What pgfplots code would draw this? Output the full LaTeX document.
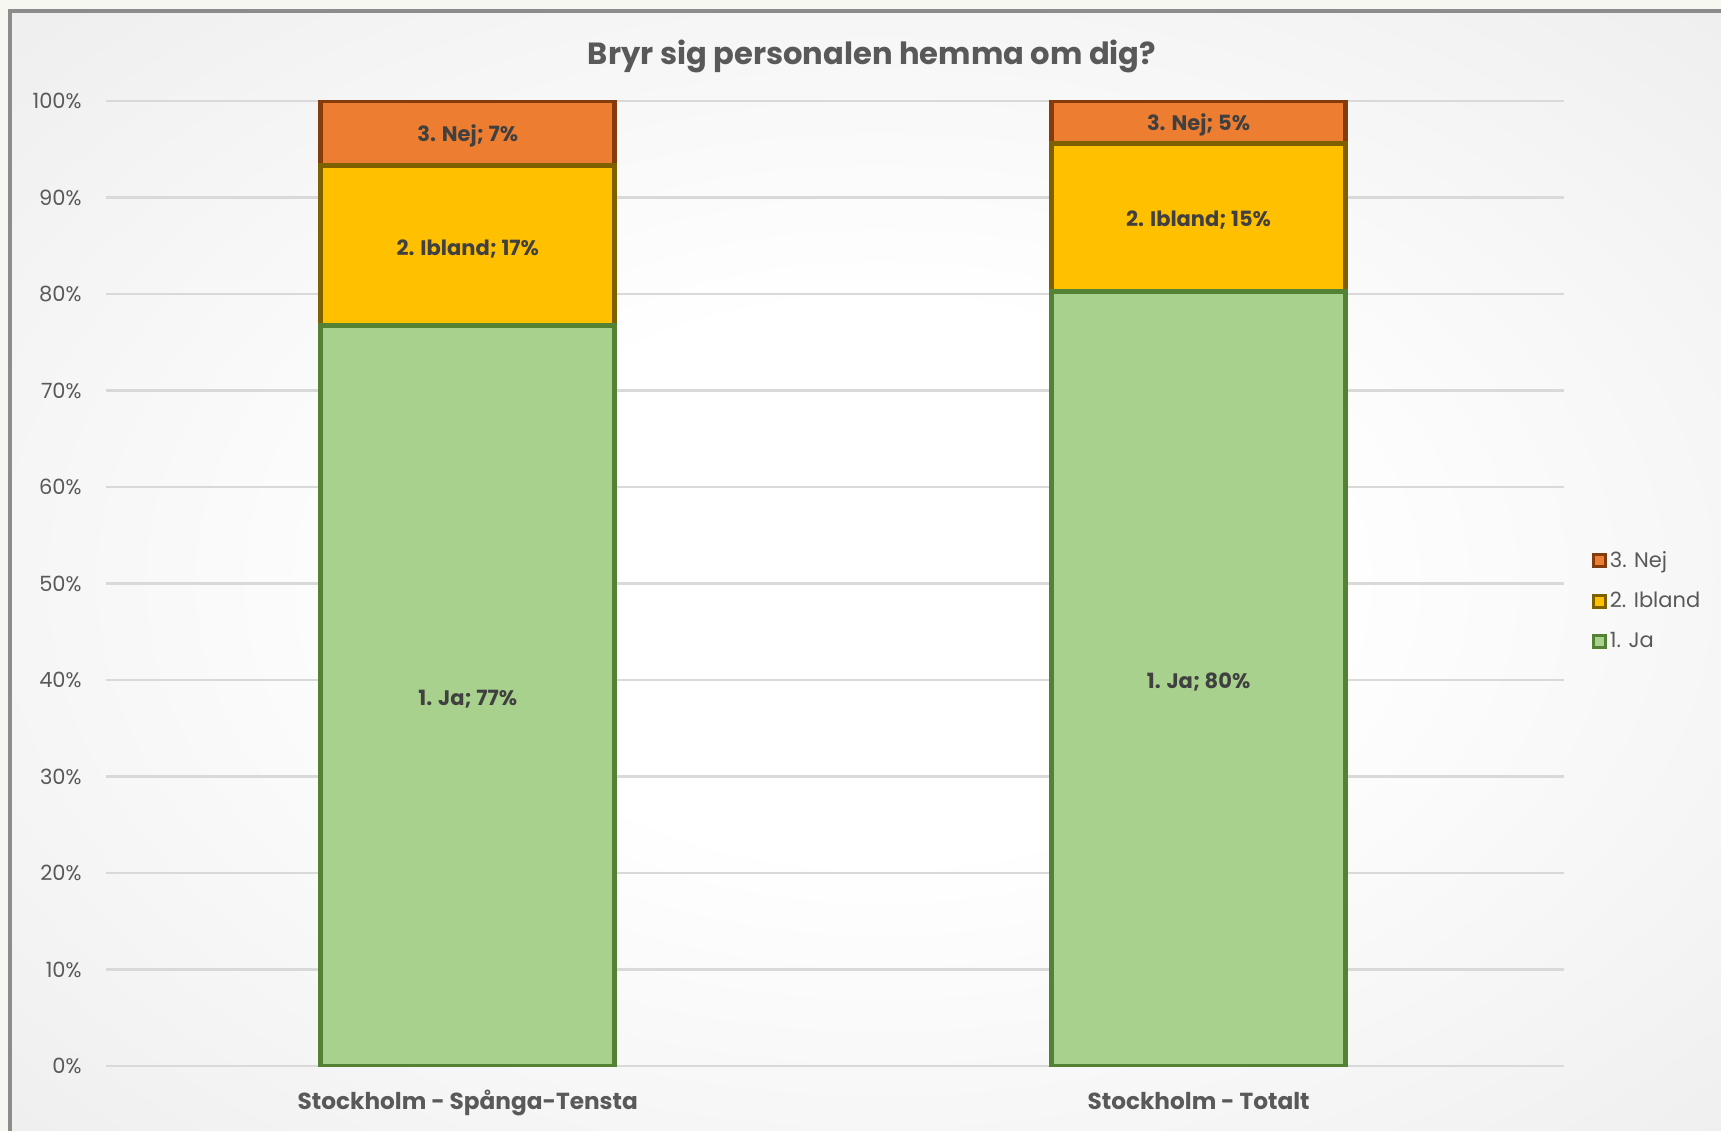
\documentclass[border=0pt]{standalone}
\usepackage{pgfplots}
\pgfplotsset{compat=1.18}
\usepackage{fontspec}
\setmainfont{Poppins}
\definecolor{tickgray}{HTML}{595959}
\definecolor{lblgray}{HTML}{404040}
\definecolor{jafill}{HTML}{A9D18E}
\definecolor{jaedge}{HTML}{548235}
\definecolor{ibfill}{HTML}{FFC000}
\definecolor{ibedge}{HTML}{7F6000}
\definecolor{nejfill}{HTML}{ED7D31}
\definecolor{nejedge}{HTML}{843C0C}
\definecolor{gridc}{HTML}{D9D9D9}
\definecolor{framec}{HTML}{8C8C8C}
\definecolor{pagec}{HTML}{F7F7F2}
\definecolor{bgA}{HTML}{FFFFFF}
\definecolor{bgB}{HTML}{E4E4E4}
\definecolor{bgC}{HTML}{D6D6D6}
\pgfdeclareradialshading{bgshade}{\pgfpoint{0bp}{0bp}}{color(0bp)=(bgA); color(12bp)=(bgA); color(50bp)=(bgB); color(71bp)=(bgC)}
\begin{document}
\begin{tikzpicture}
\path[use as bounding box] (0,0) rectangle (860.5pt,565.5pt);
\begin{scope}
\clip (0,0) rectangle (860.5pt,565.5pt);
\fill[pagec] (0,0) rectangle (860.5pt,565.5pt);
\shade[shading=bgshade] (6pt,-10pt) rectangle (875pt,559pt);
\draw[framec, line width=2pt] (5pt,-10pt) rectangle (875pt,560pt);
\end{scope}
\node[font=\bfseries\fontsize{15.3}{18}\selectfont, text=tickgray, anchor=base] at (436pt,533pt) {Bryr sig personalen hemma om dig?};
\begin{axis}[
  at={(53pt,32.5pt)}, anchor=south west,
  width=729pt, height=482.5pt, scale only axis,
  ybar stacked, bar width=0.402,
  xmin=-0.495, xmax=1.5, ymin=0, ymax=100,
  axis line style={draw=none},
  tick style={draw=none},
  ymajorgrids, grid style={gridc, line width=1.2pt},
  xtick={0,1},
  xticklabels={Stockholm - Spånga-Tensta, Stockholm - Totalt},
  xticklabel style={anchor=base, yshift=-21.5pt, font=\bfseries\fontsize{11.6}{14}\selectfont, text=tickgray},
  ytick={0,10,20,30,40,50,60,70,80,90,100},
  yticklabels={0\%,10\%,20\%,30\%,40\%,50\%,60\%,70\%,80\%,90\%,100\%},
  yticklabel style={anchor=east, inner sep=0pt, xshift=-12pt, font=\fontsize{10.5}{12}\selectfont, text=tickgray},
  point meta=explicit symbolic,
  nodes near coords,
  every node near coord/.append style={anchor=center, yshift=-1.5pt, font=\bfseries\fontsize{10.5}{12}\selectfont, text=lblgray},
  reverse legend,
  legend cell align=left,
  legend style={at={(1.019,0.482)}, anchor=west, draw=none, fill=none, font=\fontsize{10.5}{12}\selectfont, text=tickgray, row sep=7pt, inner xsep=0pt, nodes={inner xsep=1.5pt}},
  legend image code/.code={\draw[#1, line width=1.4pt] (0pt,-3pt) rectangle (6pt,3pt);},
]
\addplot[fill=jafill, draw=jaedge, line width=2.5pt] coordinates {(0,76.7) [1. Ja; 77\%] (1,80.3) [1. Ja; 80\%]};
\addlegendentry{1. Ja}
\addplot[fill=ibfill, draw=ibedge, line width=2.5pt] coordinates {(0,16.6) [2. Ibland; 17\%] (1,15.3) [2. Ibland; 15\%]};
\addlegendentry{2. Ibland}
\addplot[fill=nejfill, draw=nejedge, line width=2.5pt] coordinates {(0,6.7) [3. Nej; 7\%] (1,4.4) [3. Nej; 5\%]};
\addlegendentry{3. Nej}
\end{axis}
\end{tikzpicture}
\end{document}
